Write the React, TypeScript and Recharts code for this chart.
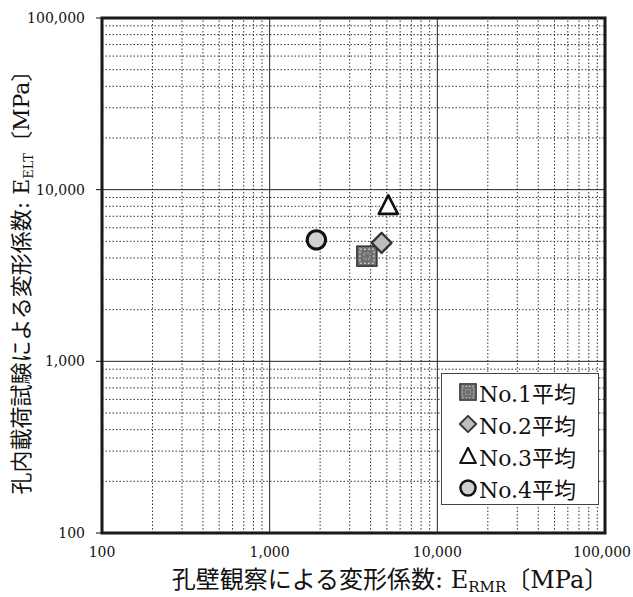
import { ScatterChart, Scatter, XAxis, YAxis, ReferenceLine, ReferenceArea, Label } from 'recharts';

const FONT = '"DejaVu Serif", "Liberation Serif", "Noto Sans CJK JP", serif';

// averaged values per borehole (E_RMR, E_ELT in MPa)
const no1 = [{ x: 3800, y: 4100 }];
const no2 = [{ x: 4650, y: 4900 }];
const no3 = [{ x: 5100, y: 8100 }];
const no4 = [{ x: 1900, y: 5100 }];

const seriesNames = ['No.1平均', 'No.2平均', 'No.3平均', 'No.4平均'];

const majorTicks = [100, 1000, 10000, 100000];
const minorTicks = [
  200, 300, 400, 500, 600, 700, 800, 900,
  2000, 3000, 4000, 5000, 6000, 7000, 8000, 9000,
  20000, 30000, 40000, 50000, 60000, 70000, 80000, 90000,
];

const fmt = (v: number) => v.toLocaleString('en-US');

function Marker({ kind, cx, cy }: { kind: number; cx: number; cy: number }) {
  if (kind === 0) {
    return (
      <g>
        <rect x={cx - 10} y={cy - 10} width={20} height={20} fill="#6e6e6e" stroke="#333" strokeWidth={1.5} />
        <rect x={cx - 7} y={cy - 7} width={14} height={14} fill="none" stroke="#c4c4c4" strokeDasharray="2 2" strokeWidth={1.5} />
        <rect x={cx - 3} y={cy - 3} width={6} height={6} fill="none" stroke="#aaa" strokeDasharray="2 1" strokeWidth={1} />
      </g>
    );
  }
  if (kind === 1) {
    return (
      <polygon
        points={`${cx},${cy - 10} ${cx + 10},${cy} ${cx},${cy + 10} ${cx - 10},${cy}`}
        fill="#bdbdbd"
        stroke="#333"
        strokeWidth={2.2}
        strokeLinejoin="round"
      />
    );
  }
  if (kind === 2) {
    return (
      <polygon
        points={`${cx},${cy - 10} ${cx + 9.5},${cy + 8.5} ${cx - 9.5},${cy + 8.5}`}
        fill="#fff"
        stroke="#111"
        strokeWidth={2.6}
        strokeLinejoin="round"
      />
    );
  }
  return <circle cx={cx} cy={cy} r={9.2} fill="#cfcfcf" stroke="#111" strokeWidth={3} />;
}

function LegendBox() {
  return (
    <div
      style={{
        position: 'absolute',
        left: 441,
        top: 373,
        width: 158,
        height: 132,
        border: '1.5px solid #444',
        background: '#fff',
        fontFamily: FONT,
        fontSize: 22,
        color: '#111',
        boxSizing: 'border-box',
        paddingTop: 2,
      }}
    >
      {seriesNames.map((n, i) => (
        <div key={n} style={{ display: 'flex', alignItems: 'center', height: 32, paddingLeft: 17 }}>
          <svg width={18} height={18} style={{ marginRight: 2, flex: 'none' }}>
            <g transform="translate(9,9) scale(0.82)">
              <Marker kind={i} cx={0} cy={0} />
            </g>
          </svg>
          <span style={{ whiteSpace: 'nowrap' }}>{n}</span>
        </div>
      ))}
    </div>
  );
}

const shape = (kind: number) => (props: any) => <Marker kind={kind} cx={props.cx} cy={props.cy} />;

const XTick = (props: any) => {
  const last = props.payload.value === majorTicks[majorTicks.length - 1];
  return (
    <text
      x={last ? 631 : props.x}
      y={props.y + 16}
      textAnchor={last ? 'end' : 'middle'}
      fontFamily={FONT}
      fontSize={14}
      fill="#111"
    >
      {fmt(props.payload.value)}
    </text>
  );
};

const YTick = (props: any) => (
  <text x={props.x - 9} y={props.y + 5} textAnchor="end" fontFamily={FONT} fontSize={14} fill="#111">
    {fmt(props.payload.value)}
  </text>
);

export default function App() {
  return (
    <div style={{ position: 'absolute', left: 0, top: 0, width: 633, height: 597, background: '#fff' }}>
      <ScatterChart width={633} height={597} margin={{ top: 18, right: 28, bottom: 24, left: 22 }}>
        <XAxis
          type="number"
          dataKey="x"
          scale="log"
          domain={[100, 100000]}
          ticks={majorTicks}
          allowDataOverflow
          height={40}
          axisLine={false}
          tickLine={false}
          tick={<XTick />}
        >
          <Label
            content={() => (
              <text x={390} y={588} textAnchor="middle" fontFamily={FONT} fontSize={24} fill="#111">
                孔壁観察による変形係数: E
                <tspan fontSize={15} dy={4}>RMR</tspan>
                <tspan dy={-4}>〔MPa〕</tspan>
              </text>
            )}
          />
        </XAxis>
        <YAxis
          type="number"
          dataKey="y"
          scale="log"
          domain={[100, 100000]}
          ticks={majorTicks}
          allowDataOverflow
          width={80}
          axisLine={false}
          tickSize={6}
          tickLine={{ stroke: '#111' }}
          tick={<YTick />}
        >
          <Label
            content={() => (
              <text
                x={0}
                y={0}
                transform="translate(29,277) rotate(-90)"
                textAnchor="middle"
                fontFamily={FONT}
                fontSize={22}
                fill="#111"
              >
                孔内載荷試験による変形係数: E
                <tspan fontSize={13} dy={4}>ELT</tspan>
                <tspan dy={-4}>〔MPa〕</tspan>
              </text>
            )}
          />
        </YAxis>
        {minorTicks.map((v) => (
          <ReferenceLine key={`vx${v}`} x={v} stroke="#333" strokeWidth={1} strokeDasharray="1.5 2" />
        ))}
        {minorTicks.map((v) => (
          <ReferenceLine key={`hy${v}`} y={v} stroke="#333" strokeWidth={1} strokeDasharray="1.5 2" />
        ))}
        {majorTicks.map((v) => (
          <ReferenceLine key={`mx${v}`} x={v} stroke="#222" strokeWidth={1} />
        ))}
        {majorTicks.map((v) => (
          <ReferenceLine key={`my${v}`} y={v} stroke="#222" strokeWidth={1} />
        ))}
        <ReferenceArea x1={100} x2={100000} y1={100} y2={100000} fill="none" stroke="#111" strokeWidth={3} />
        <Scatter name={seriesNames[0]} data={no1} shape={shape(0)} isAnimationActive={false} />
        <Scatter name={seriesNames[1]} data={no2} shape={shape(1)} isAnimationActive={false} />
        <Scatter name={seriesNames[2]} data={no3} shape={shape(2)} isAnimationActive={false} />
        <Scatter name={seriesNames[3]} data={no4} shape={shape(3)} isAnimationActive={false} />
      </ScatterChart>
      <LegendBox />
    </div>
  );
}
